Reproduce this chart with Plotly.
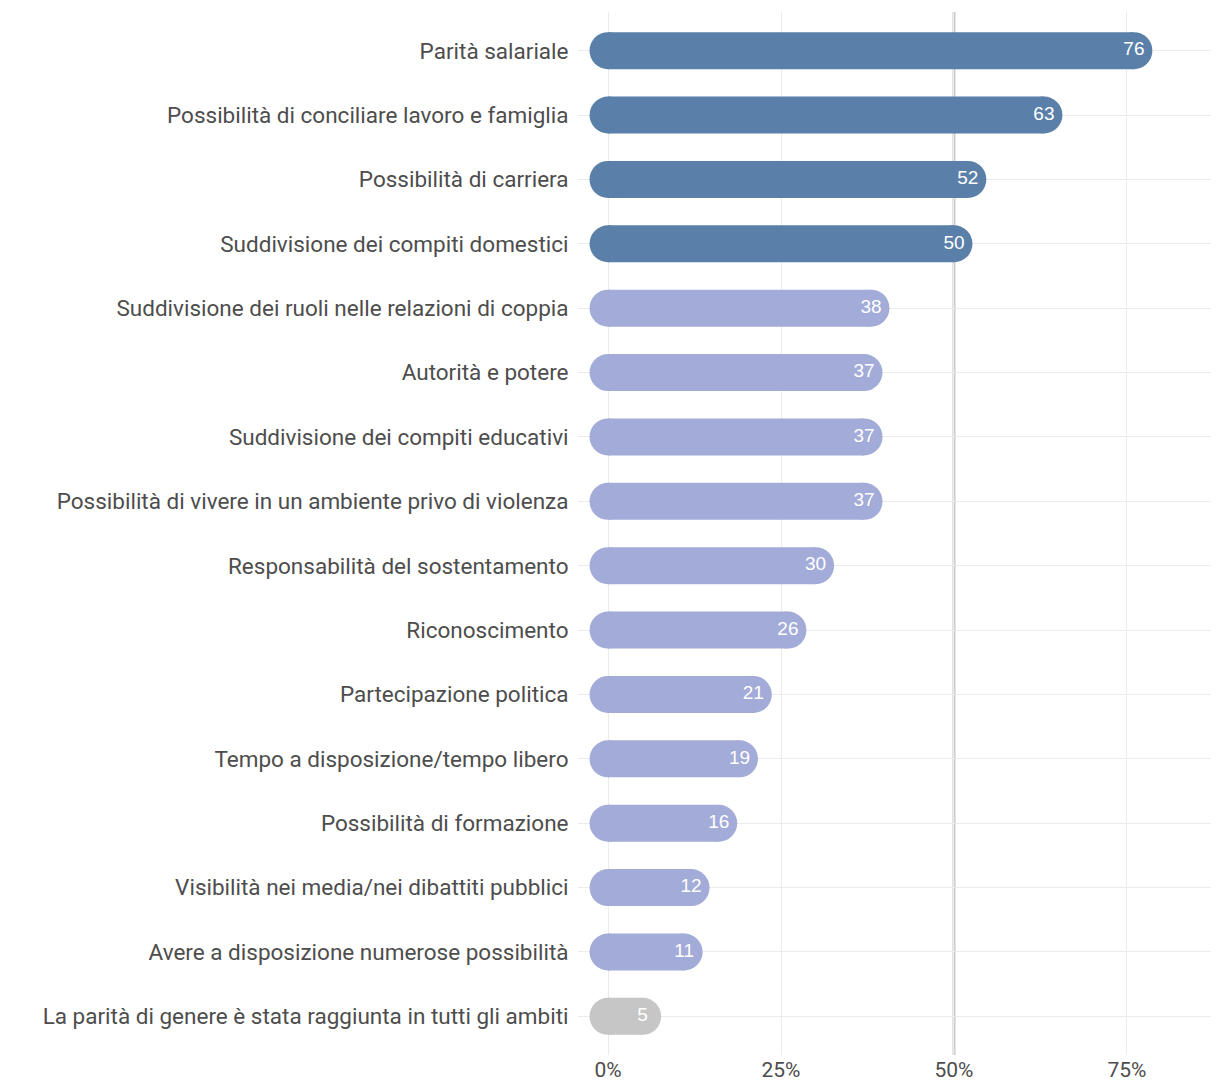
import plotly.graph_objects as go

categories = [
    "Parità salariale",
    "Possibilità di conciliare lavoro e famiglia",
    "Possibilità di carriera",
    "Suddivisione dei compiti domestici",
    "Suddivisione dei ruoli nelle relazioni di coppia",
    "Autorità e potere",
    "Suddivisione dei compiti educativi",
    "Possibilità di vivere in un ambiente privo di violenza",
    "Responsabilità del sostentamento",
    "Riconoscimento",
    "Partecipazione politica",
    "Tempo a disposizione/tempo libero",
    "Possibilità di formazione",
    "Visibilità nei media/nei dibattiti pubblici",
    "Avere a disposizione numerose possibilità",
    "La parità di genere è stata raggiunta in tutti gli ambiti",
]
values = [76, 63, 52, 50, 38, 37, 37, 37, 30, 26, 21, 19, 16, 12, 11, 5]
groups = ["top"] * 4 + ["mid"] * 11 + ["none"]
group_colors = {"top": "#5a7fa8", "mid": "#a3acd8", "none": "#c6c6c6"}

tick_vals = [0, 25, 50, 75]
tick_text = ["0%", "25%", "50%", "75%"]

order = list(reversed(categories))  # bottom -> top

fig = go.Figure()

BAR_PX = 37
for g, col in group_colors.items():
    xs, ys = [], []
    for c, v, gg in zip(categories, values, groups):
        if gg != g:
            continue
        xs += [0, v, None]
        ys += [c, c, None]
    fig.add_trace(go.Scatter(
        x=xs, y=ys, mode="lines+markers",
        line=dict(color=col, width=BAR_PX),
        marker=dict(color=col, size=BAR_PX, line=dict(width=0)),
        hoverinfo="skip", showlegend=False, connectgaps=False,
    ))

fig.add_trace(go.Scatter(
    x=values, y=categories, mode="text",
    text=[str(v) for v in values],
    textposition="middle center",
    textfont=dict(family="Liberation Sans, Arial, sans-serif", size=19, color="white"),
    hoverinfo="skip", showlegend=False,
))

fig.add_shape(type="line", xref="x", yref="paper", x0=50, x1=50, y0=0, y1=1,
              line=dict(color="#cccccc", width=3), layer="between")

fig.update_layout(
    width=1211, height=1075,
    margin=dict(l=570, r=0, t=4, b=28, autoexpand=False),
    plot_bgcolor="white", paper_bgcolor="white",
    font=dict(family="Roboto, sans-serif", color="#4d4d4d"),
    xaxis=dict(
        range=[-4.34, 88.3], tickvals=tick_vals, ticktext=tick_text,
        showgrid=True, gridcolor="#ebebeb", gridwidth=1,
        zeroline=False, showline=False,
        ticks="", ticklen=0,
        tickfont=dict(family="Roboto, sans-serif", size=21, color="#4d4d4d"),
        fixedrange=True,
    ),
    yaxis=dict(
        type="category", categoryorder="array", categoryarray=order,
        range=[-0.6, 15.6],
        showgrid=True, gridcolor="#ebebeb", gridwidth=1,
        zeroline=False, showline=False,
        ticks="outside", ticklen=4, tickcolor="rgba(0,0,0,0)",
        tickfont=dict(family="Roboto, sans-serif", size=22.5, color="#4d4d4d"),
        automargin=False,
    ),
)

fig.write_html("out.html")
